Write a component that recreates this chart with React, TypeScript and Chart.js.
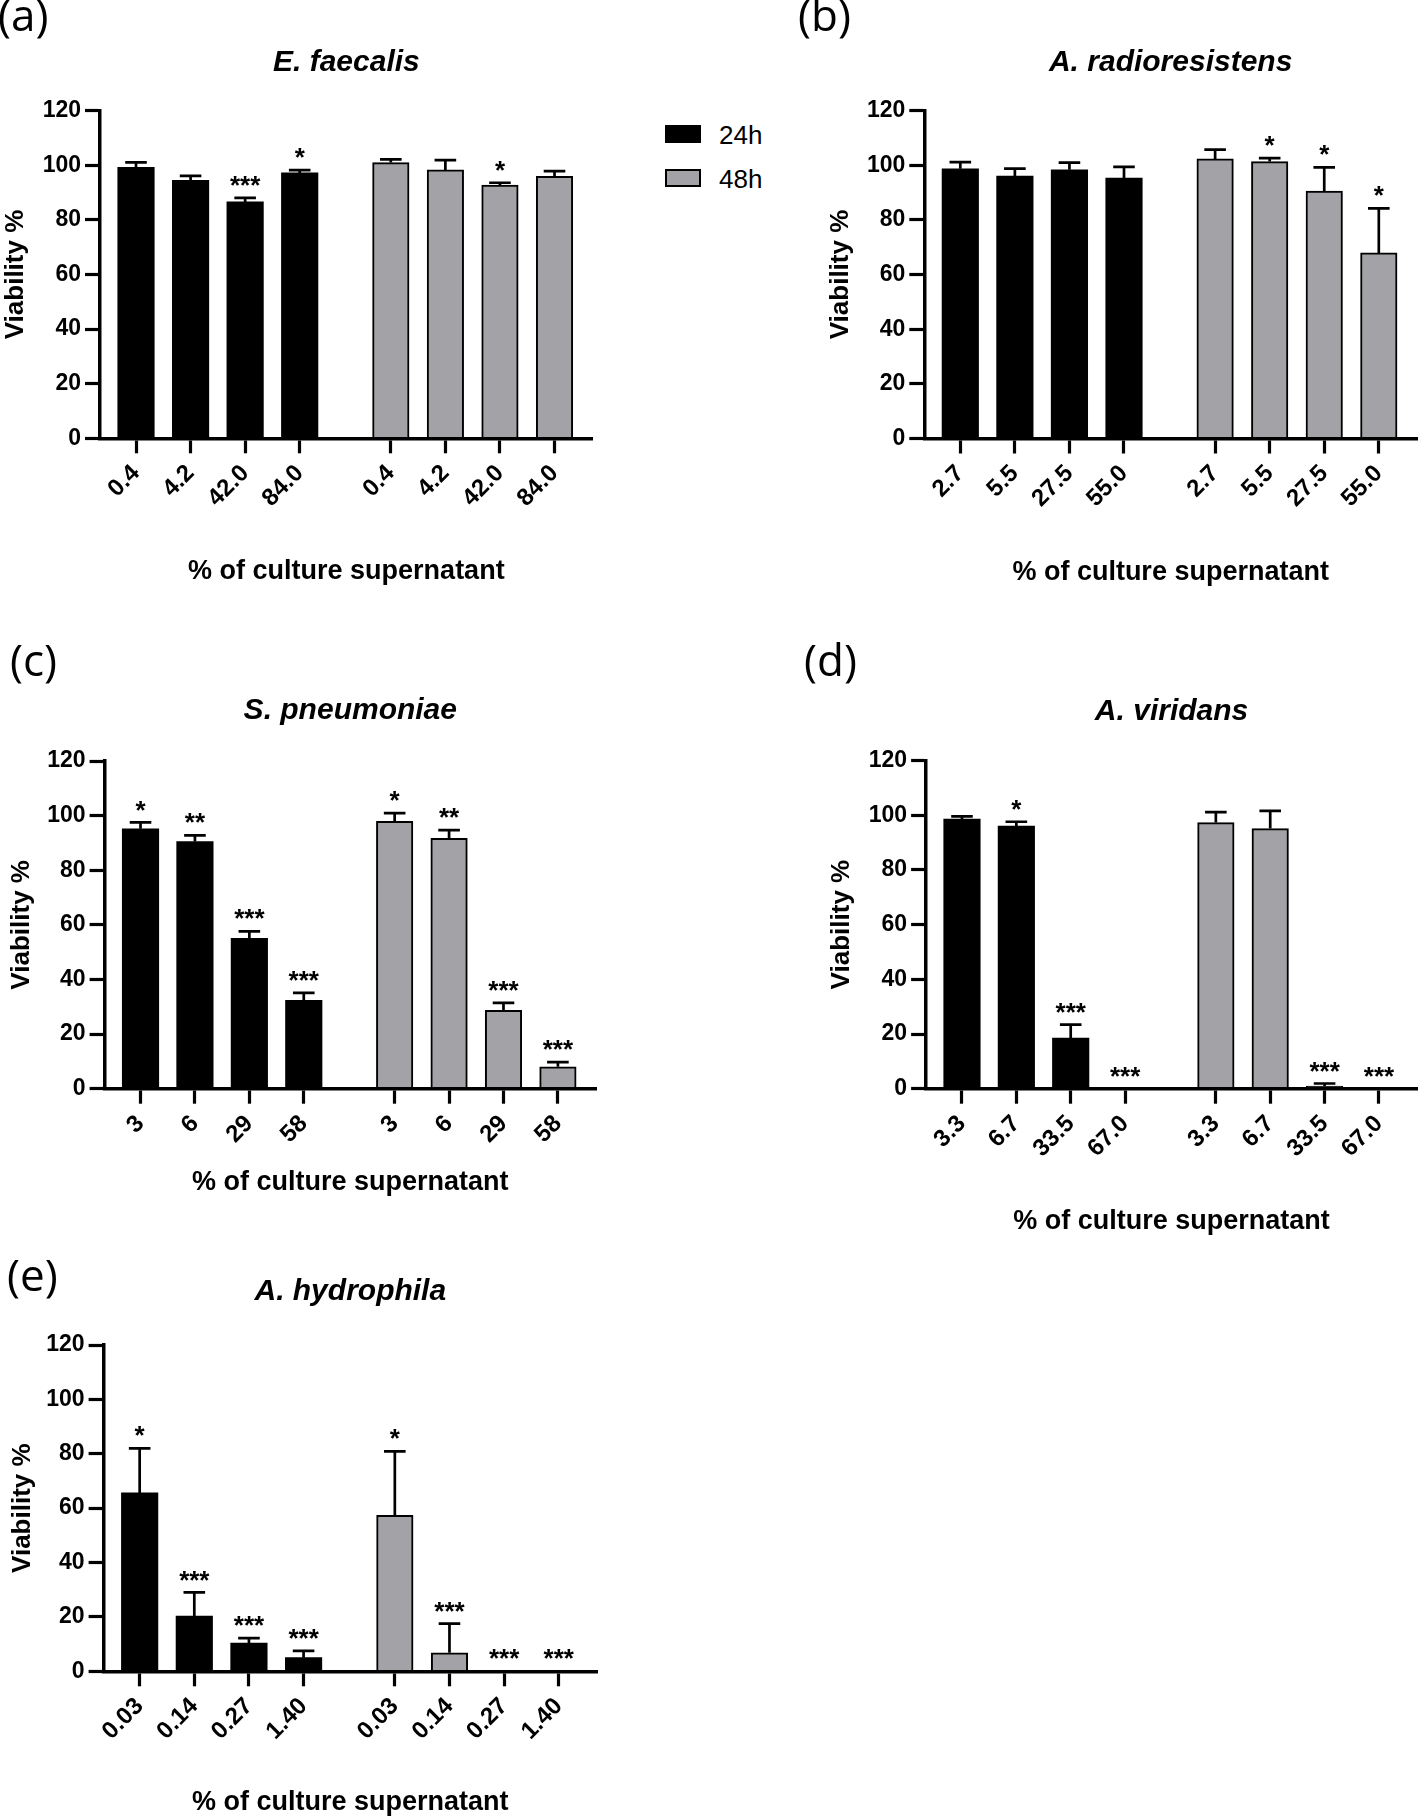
import React, { useEffect, useRef } from 'react';
import { Chart, registerables } from 'chart.js';

Chart.register(...registerables);

const FONT = "'Liberation Sans', Arial, Helvetica, sans-serif";
const LETTER_FONT = "'Open Sans', 'Noto Sans', sans-serif";
const GRAY = '#a3a3a7';

// ---------------- data ----------------
const seriesNames = ['24h', '48h'];
const yAxisTitle = 'Viability %';
const xAxisTitle = '% of culture supernatant';

// (a) E. faecalis
const faecalisDoses = ['0.4', '4.2', '42.0', '84.0'];
const faecalis24h = [99.3, 94.5, 86.6, 97.2];
const faecalis24hSD = [1.8, 1.6, 1.5, 1.0];
const faecalis48h = [101.0, 98.3, 92.8, 96.0];
const faecalis48hSD = [1.2, 3.6, 0.8, 1.9];
const faecalis24hSig = ['', '', '***', '*'];
const faecalis48hSig = ['', '', '*', ''];

// (b) A. radioresistens
const radioDoses = ['2.7', '5.5', '27.5', '55.0'];
const radio24h = [98.7, 96.0, 98.3, 95.3];
const radio24hSD = [2.4, 2.7, 2.6, 4.1];
const radio48h = [102.3, 101.3, 90.5, 67.9];
const radio48hSD = [3.4, 1.3, 8.7, 16.3];
const radio24hSig = ['', '', '', ''];
const radio48hSig = ['', '*', '*', '*'];

// (c) S. pneumoniae
const pneumoDoses = ['3', '6', '29', '58'];
const pneumo24h = [95.2, 90.5, 55.1, 32.4];
const pneumo24hSD = [2.3, 2.3, 2.5, 2.7];
const pneumo48h = [97.9, 91.7, 28.7, 8.0];
const pneumo48hSD = [3.0, 3.0, 2.7, 1.7];
const pneumo24hSig = ['*', '**', '***', '***'];
const pneumo48hSig = ['*', '**', '***', '***'];

// (d) A. viridans
const viridansDoses = ['3.3', '6.7', '33.5', '67.0'];
const viridans24h = [98.6, 96.0, 18.5, 0];
const viridans24hSD = [1.0, 1.6, 4.9, 0];
const viridans48h = [97.3, 95.1, 1.0, 0];
const viridans48hSD = [3.8, 6.5, 0.9, 0];
const viridans24hSig = ['', '*', '***', '***'];
const viridans48hSig = ['', '', '***', '***'];

// (e) A. hydrophila
const hydroDoses = ['0.03', '0.14', '0.27', '1.40'];
const hydro24h = [65.6, 20.3, 10.4, 5.0];
const hydro24hSD = [16.4, 8.7, 1.8, 2.5];
const hydro48h = [57.4, 6.8, 0.3, 0];
const hydro48hSD = [23.5, 10.7, 0, 0];
const hydro24hSig = ['*', '***', '***', '***'];
const hydro48hSig = ['*', '***', '***', '***'];

// ---------------- layout / style ----------------
const GROUP_GAP = 0.67;
const X_MIN = -0.66;
const X_MAX = 8.37;
const BAR_W = 36.5;
const CAP_HALF = 10.8;
const TITLE_SIZE = 30;
const AXIS_TITLE_SIZE = 27;
const Y_TITLE_SIZE = 26;
const TICK_SIZE = 23;
const X_TICK_SIZE = 24;
const STAR_SIZE = 26;

type Box = { left: number; top: number; width: number; height: number };
type Area = { L: number; T: number; R: number; B: number };
type PanelSpec = {
  letter: string;
  letterPos: { left: number; top: number };
  title: string;
  doses: string[];
  v24: number[]; sd24: number[]; sig24: string[];
  v48: number[]; sd48: number[]; sig48: string[];
  box: Box; area: Area;
  titleMid: number; yTitleMid: number; xTitleMid: number;
};

const panels: PanelSpec[] = [
  {
    letter: '(a)', letterPos: { left: -2, top: -8.5 }, title: 'E. faecalis', doses: faecalisDoses,
    v24: faecalis24h, sd24: faecalis24hSD, sig24: faecalis24hSig,
    v48: faecalis48h, sd48: faecalis48hSD, sig48: faecalis48hSig,
    box: { left: 0, top: 0, width: 610, height: 600 },
    area: { L: 100, T: 110.7, R: 592.7, B: 438.3 },
    titleMid: 62.5, yTitleMid: 16, xTitleMid: 572,
  },
  {
    letter: '(b)', letterPos: { left: 798, top: -8.5 }, title: 'A. radioresistens', doses: radioDoses,
    v24: radio24h, sd24: radio24hSD, sig24: radio24hSig,
    v48: radio48h, sd48: radio48hSD, sig48: radio48hSig,
    box: { left: 790, top: 0, width: 628, height: 600 },
    area: { L: 924.3, T: 110.5, R: 1417, B: 438.5 },
    titleMid: 62.5, yTitleMid: 841, xTitleMid: 572.5,
  },
  {
    letter: '(c)', letterPos: { left: 10, top: 637 }, title: 'S. pneumoniae', doses: pneumoDoses,
    v24: pneumo24h, sd24: pneumo24hSD, sig24: pneumo24hSig,
    v48: pneumo48h, sd48: pneumo48hSD, sig48: pneumo48hSig,
    box: { left: 0, top: 620, width: 610, height: 590 },
    area: { L: 104.6, T: 761, R: 596, B: 1088.7 },
    titleMid: 710.5, yTitleMid: 21.4, xTitleMid: 1183,
  },
  {
    letter: '(d)', letterPos: { left: 804, top: 637 }, title: 'A. viridans', doses: viridansDoses,
    v24: viridans24h, sd24: viridans24hSD, sig24: viridans24hSig,
    v48: viridans48h, sd48: viridans48hSD, sig48: viridans48hSig,
    box: { left: 790, top: 620, width: 628, height: 630 },
    area: { L: 926.1, T: 760.5, R: 1417, B: 1088.7 },
    titleMid: 711.5, yTitleMid: 842, xTitleMid: 1221.5,
  },
  {
    letter: '(e)', letterPos: { left: 7, top: 1252 }, title: 'A. hydrophila', doses: hydroDoses,
    v24: hydro24h, sd24: hydro24hSD, sig24: hydro24hSig,
    v48: hydro48h, sd48: hydro48hSD, sig48: hydro48hSig,
    box: { left: 0, top: 1230, width: 610, height: 588 },
    area: { L: 103.6, T: 1345, R: 597, B: 1671.3 },
    titleMid: 1292, yTitleMid: 22.7, xTitleMid: 1803,
  },
];

const errorSigPlugin = {
  id: 'errSig',
  afterDatasetsDraw(chart: any, _args: any, opts: any) {
    const ctx = chart.ctx as CanvasRenderingContext2D;
    const yScale = chart.scales.y;
    ctx.save();
    chart.data.datasets.forEach((ds: any, di: number) => {
      const meta = chart.getDatasetMeta(di);
      const errs: number[] = opts.errors[di];
      const marks: string[] = opts.marks[di];
      meta.data.forEach((bar: any, i: number) => {
        const v = ds.data[i].y as number;
        const e = errs[i] || 0;
        const topPx = yScale.getPixelForValue(v + e);
        if (e > 0) {
          ctx.strokeStyle = '#000';
          ctx.lineWidth = 2.7;
          ctx.lineCap = 'butt';
          ctx.beginPath();
          ctx.moveTo(bar.x, bar.y);
          ctx.lineTo(bar.x, topPx);
          ctx.moveTo(bar.x - CAP_HALF, topPx);
          ctx.lineTo(bar.x + CAP_HALF, topPx);
          ctx.stroke();
        }
        if (marks[i]) {
          ctx.fillStyle = '#000';
          ctx.font = `bold ${STAR_SIZE}px ${FONT}`;
          ctx.textAlign = 'center';
          ctx.textBaseline = 'alphabetic';
          ctx.fillText(marks[i], bar.x, topPx - 19 + STAR_SIZE * 0.58);
        }
      });
    });
    ctx.restore();
  },
};

function Panel({ spec }: { spec: PanelSpec }) {
  const ref = useRef<HTMLCanvasElement>(null);
  useEffect(() => {
    const s = spec;
    const { box, area } = s;
    const n = s.v24.length;
    const xs24 = s.v24.map((_, i) => i);
    const xs48 = s.v48.map((_, i) => i + n + GROUP_GAP);
    const tickPos = [...xs24, ...xs48];
    const tickLabels = [...s.doses, ...s.doses];
    const titleLH = TITLE_SIZE * 1.2;
    const titlePadTop = s.titleMid - box.top - titleLH / 2;
    const titlePadBottom = area.T - box.top - titlePadTop - titleLH;
    const xTitlePad = box.top + box.height - s.xTitleMid - (AXIS_TITLE_SIZE * 1.2) / 2;
    const yTitlePad = s.yTitleMid - box.left - (Y_TITLE_SIZE * 1.2) / 2;
    const tickFont = { family: FONT, size: TICK_SIZE, weight: 'bold' as const };
    const xTickFont = { family: FONT, size: X_TICK_SIZE, weight: 'bold' as const };

    const chart = new Chart(ref.current as HTMLCanvasElement, {
      type: 'bar',
      data: {
        datasets: [
          {
            label: seriesNames[0],
            data: s.v24.map((y, i) => ({ x: xs24[i], y })),
            backgroundColor: '#000',
            borderColor: '#000',
            borderWidth: 0,
            grouped: false,
            barThickness: BAR_W,
          } as any,
          {
            label: seriesNames[1],
            data: s.v48.map((y, i) => ({ x: xs48[i], y })),
            backgroundColor: GRAY,
            borderColor: '#000',
            borderWidth: 2,
            grouped: false,
            barThickness: BAR_W,
          } as any,
        ],
      },
      options: {
        responsive: false,
        animation: false,
        events: [],
        layout: { padding: { left: 0, top: 0, bottom: 0, right: box.left + box.width - area.R } },
        plugins: {
          legend: { display: false },
          tooltip: { enabled: false },
          title: {
            display: true,
            text: s.title,
            fullSize: false,
            color: '#000',
            font: { family: FONT, size: TITLE_SIZE, weight: 'bold', style: 'italic' },
            padding: { top: titlePadTop, bottom: titlePadBottom },
          },
          errSig: { errors: [s.sd24, s.sd48], marks: [s.sig24, s.sig48] },
        } as any,
        scales: {
          x: {
            type: 'linear',
            min: X_MIN,
            max: X_MAX,
            offset: false,
            afterBuildTicks: (sc: any) => {
              sc.ticks = tickPos.map((v) => ({ value: v }));
            },
            afterFit: (sc: any) => {
              sc.height = box.top + box.height - area.B;
              sc.paddingLeft = 0;
              sc.paddingRight = 0;
            },
            ticks: {
              autoSkip: false,
              minRotation: 45,
              maxRotation: 45,
              padding: 6,
              color: '#000',
              font: xTickFont,
              callback: (_v: any, i: number) => tickLabels[i],
            },
            grid: { offset: false, drawOnChartArea: false, drawTicks: true, tickLength: 15, tickWidth: 3.2, tickColor: '#000' },
            border: { display: true, color: '#000', width: 3.5, z: 1 },
            title: {
              display: true,
              text: xAxisTitle,
              color: '#000',
              font: { family: FONT, size: AXIS_TITLE_SIZE, weight: 'bold' },
              padding: { top: 0, bottom: xTitlePad },
            },
          } as any,
          y: {
            min: 0,
            max: 120,
            afterFit: (sc: any) => {
              sc.width = area.L - box.left;
              sc.paddingTop = 0;
              sc.paddingBottom = 0;
            },
            ticks: { stepSize: 20, padding: 4, color: '#000', font: tickFont },
            grid: { drawOnChartArea: false, drawTicks: true, tickLength: 15, tickWidth: 3.2, tickColor: '#000' },
            border: { display: true, color: '#000', width: 3.5, z: 1 },
            title: {
              display: true,
              text: yAxisTitle,
              color: '#000',
              font: { family: FONT, size: Y_TITLE_SIZE, weight: 'bold' },
              padding: { top: yTitlePad, bottom: 0 },
            },
          } as any,
        },
      },
      plugins: [errorSigPlugin as any],
    });
    return () => chart.destroy();
  }, [spec]);

  return (
    <canvas
      ref={ref}
      width={spec.box.width}
      height={spec.box.height}
      style={{ position: 'absolute', left: spec.box.left, top: spec.box.top, width: spec.box.width, height: spec.box.height }}
    />
  );
}

export default function App() {
  return (
    <div
      style={{
        position: 'absolute', left: 0, top: 0, width: 1418, height: 1818,
        overflow: 'hidden', background: '#fff',
      }}
    >
      {panels.map((p) => (
        <Panel key={p.letter} spec={p} />
      ))}
      {panels.map((p) => (
        <div
          key={'L' + p.letter}
          style={{
            position: 'absolute', left: p.letterPos.left, top: p.letterPos.top,
            font: `400 44px ${LETTER_FONT}`, lineHeight: '44px', color: '#000', whiteSpace: 'nowrap',
          }}
        >
          {p.letter}
        </div>
      ))}
      {/* legend */}
      <div style={{ position: 'absolute', left: 665, top: 125, width: 36, height: 18, background: '#000' }} />
      <div
        style={{
          position: 'absolute', left: 665, top: 169, width: 36, height: 18, background: GRAY,
          border: '2px solid #000', boxSizing: 'border-box',
        }}
      />
      <div style={{ position: 'absolute', left: 719, top: 122, font: `26px ${FONT}`, lineHeight: '26px', color: '#000' }}>
        {seriesNames[0]}
      </div>
      <div style={{ position: 'absolute', left: 719, top: 166, font: `26px ${FONT}`, lineHeight: '26px', color: '#000' }}>
        {seriesNames[1]}
      </div>
    </div>
  );
}
